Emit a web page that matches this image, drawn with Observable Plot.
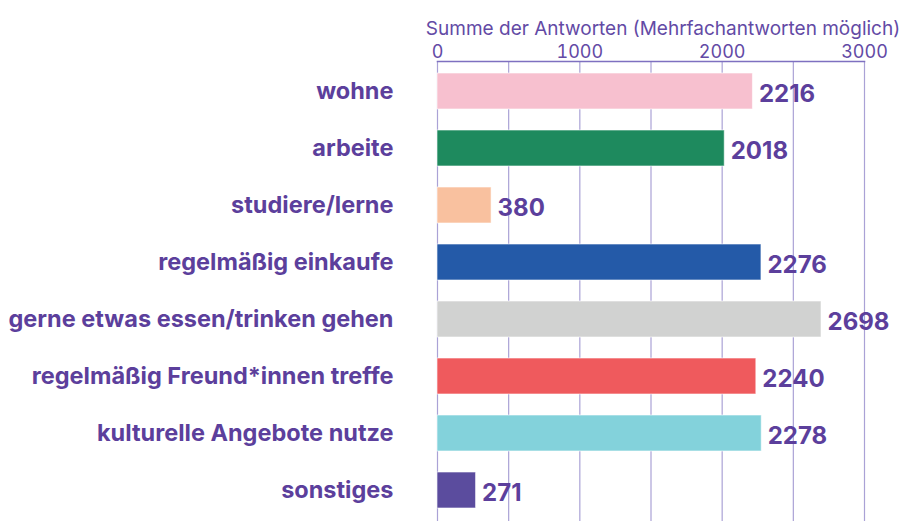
<!DOCTYPE html>
<html>
<head>
<meta charset="utf-8">
<script src="https://cdn.jsdelivr.net/npm/d3@7"></script>
<script src="https://cdn.jsdelivr.net/npm/@observablehq/plot@0.6"></script>
<style>
  html, body { margin: 0; padding: 0; background: #fff; }
  #chart svg { display: block; }
</style>
</head>
<body>
<div id="chart"></div>
<script>
const categories = [
  "wohne",
  "arbeite",
  "studiere/lerne",
  "regelmäßig einkaufe",
  "gerne etwas essen/trinken gehen",
  "regelmäßig Freund*innen treffe",
  "kulturelle Angebote nutze",
  "sonstiges"
];
const values = [2216, 2018, 380, 2276, 2698, 2240, 2278, 271];
const barColors = ["#f7c0cf", "#1e8a5e", "#f9c19f", "#245aa8", "#d1d2d1", "#ef5a5d", "#83d2db", "#5b4c9e"];
const tickValues = [0, 1000, 2000, 3000];
const gridValues = [0, 500, 1000, 1500, 2000, 2500, 3000];
const axisTitle = "Summe der Antworten (Mehrfachantworten möglich)";

const data = categories.map((c, i) => ({category: c, value: values[i]}));
const purple = "#5c3f9c";

const chart = Plot.plot({
  width: 901,
  height: 521,
  marginLeft: 437,
  marginRight: 37,
  marginTop: 61,
  marginBottom: 0,
  style: {fontFamily: "Inter, 'DejaVu Sans', sans-serif", background: "#fff"},
  x: {domain: [0, 3000]},
  y: {domain: categories, paddingInner: 0.36, paddingOuter: 0.16},
  color: {domain: categories, range: barColors},
  marks: [
    Plot.gridX(gridValues, {stroke: "#aaa2d6", strokeOpacity: 1, strokeWidth: 1.2}),
    Plot.frame({anchor: "top", stroke: "#7e70c0", strokeWidth: 1.5}),
    Plot.axisX(tickValues, {anchor: "top", tickSize: 0, tickPadding: 4, fontSize: 18, fill: "#634aa5", label: null, tickFormat: d => String(d)}),
    Plot.text([axisTitle], {frameAnchor: "top", dx: 12, dy: -40, fontSize: 19, fill: "#634aa5"}),
    Plot.barX(data, {x: "value", y: "category", fill: "category", stroke: "#fff", strokeOpacity: 0.6, strokeWidth: 1}),
    Plot.text(data, {x: "value", y: "category", text: d => String(d.value), textAnchor: "start", dx: 6, dy: 3, fontSize: 24, fontWeight: "bold", fill: purple}),
    Plot.axisY({tickSize: 0, tickPadding: 44, fontSize: 23.5, fontWeight: "bold", fill: purple, label: null})
  ]
});
document.getElementById("chart").append(chart);
</script>
</body>
</html>
